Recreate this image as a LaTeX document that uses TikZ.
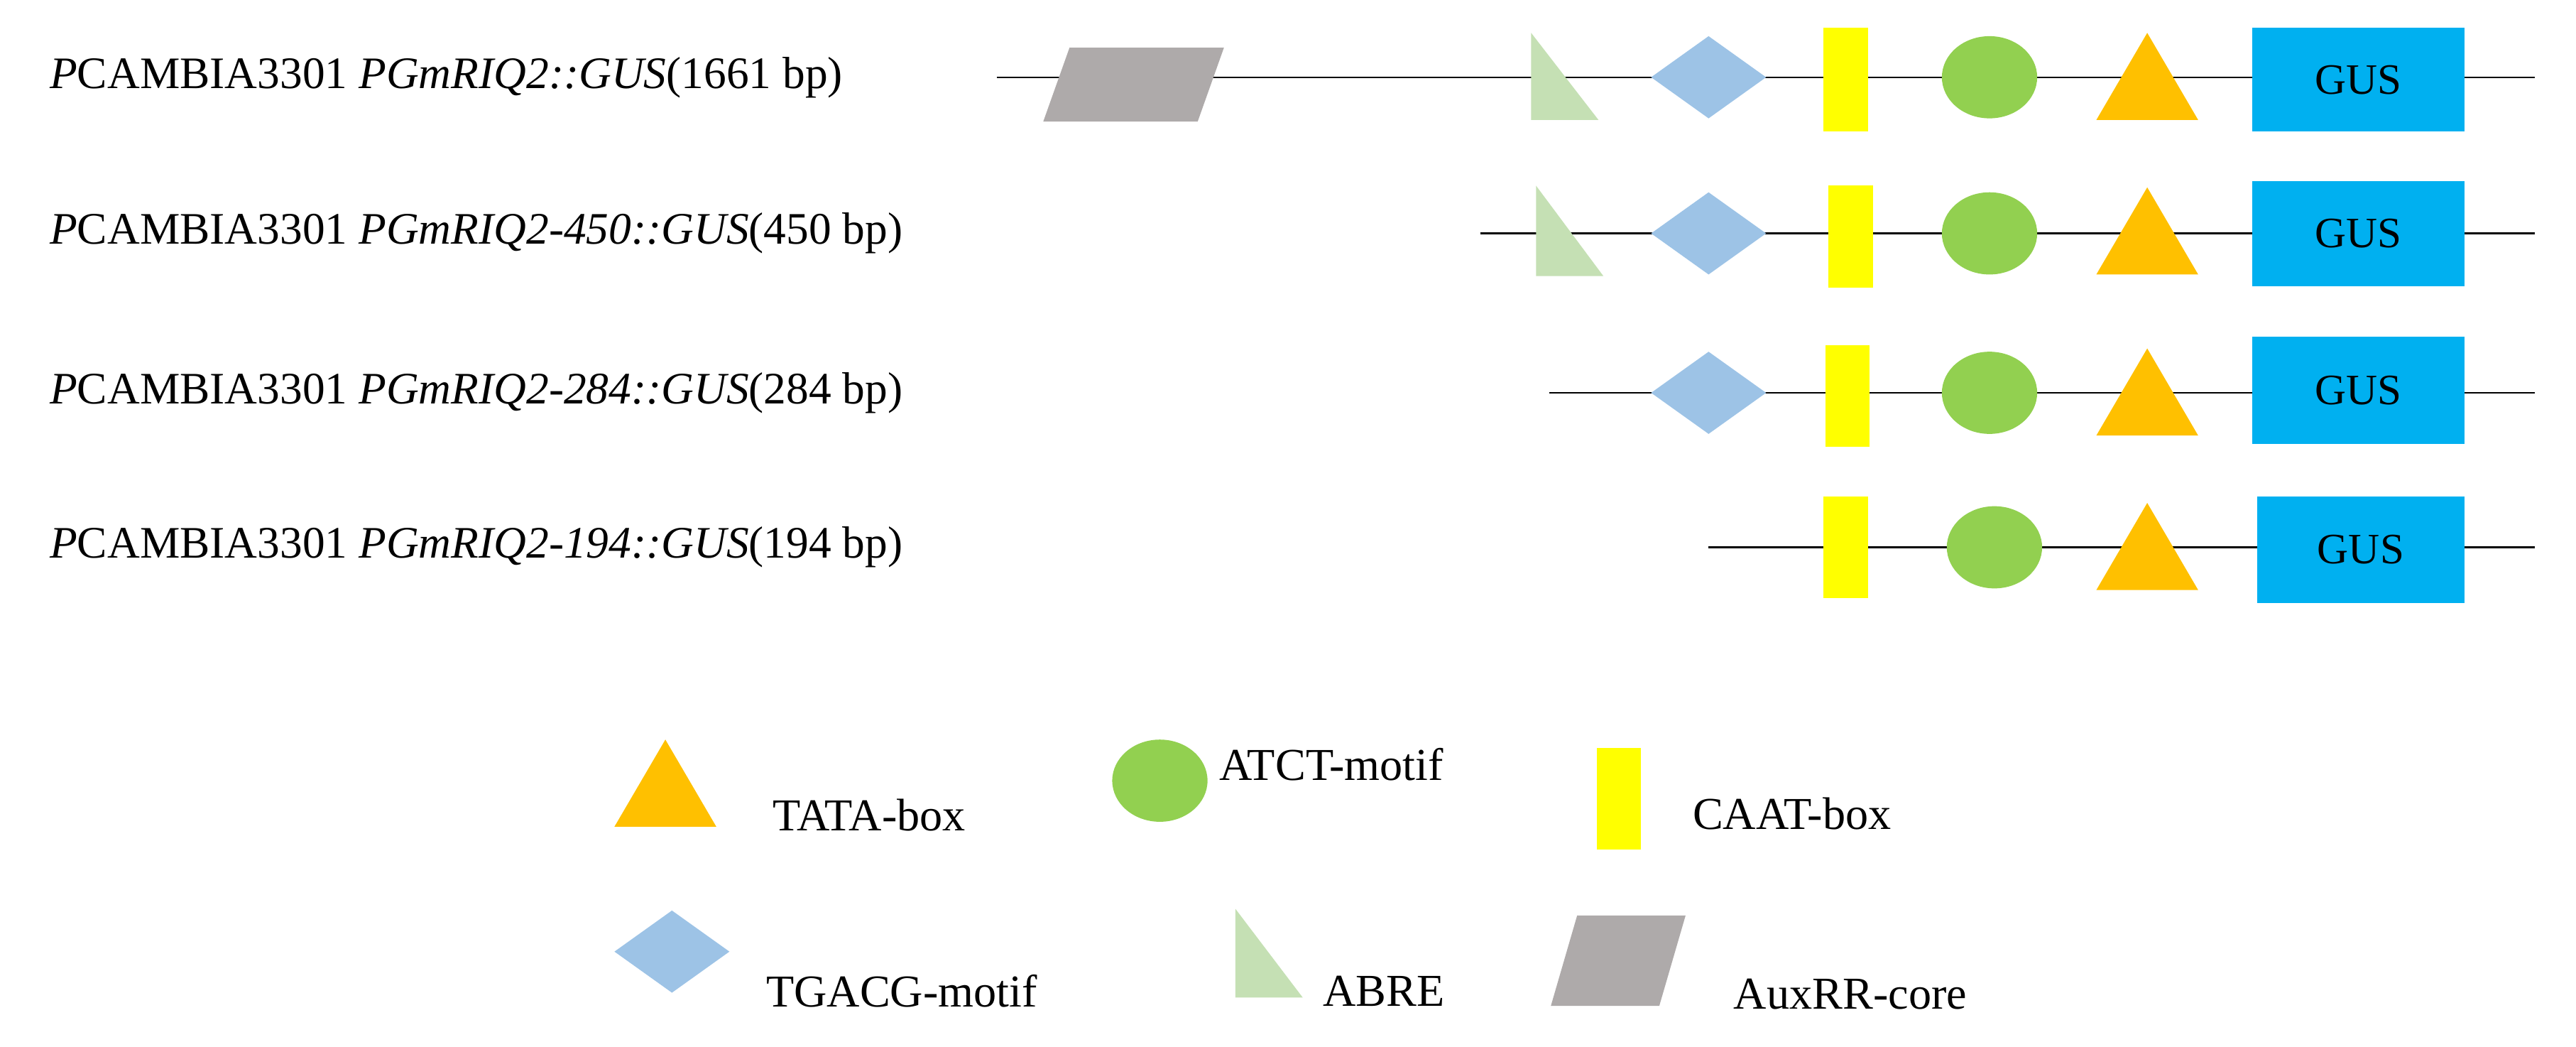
\documentclass[tikz,border=0pt]{standalone}
\usepackage{fontspec}
\setmainfont{Liberation Serif}
\definecolor{cgrey}{HTML}{AEAAAA}
\definecolor{cabre}{HTML}{C5E0B4}
\definecolor{cdia}{HTML}{9DC3E6}
\definecolor{cyel}{HTML}{FFFF00}
\definecolor{cgreen}{HTML}{92D050}
\definecolor{corange}{HTML}{FFC000}
\definecolor{cgus}{HTML}{00B0F0}
\begin{document}
\begin{tikzpicture}[x=0.02cm,y=-0.02cm,
  lab/.style={anchor=west,inner sep=0pt,font=\fontsize{15.6}{18}\selectfont},
  leg/.style={anchor=west,inner sep=0pt,font=\fontsize{15.8}{18}\selectfont},
  gus/.style={fill=cgus,draw=none,font=\fontsize{15}{17}\selectfont},
  dna/.style={line width=0.6pt}]
\useasboundingbox (0,0) rectangle (1568,637);
\newcommand{\tata}[2]{\fill[corange] (#1-31,#2+26) -- (#1,#2-27) -- (#1+31,#2+26) -- cycle;}
\newcommand{\atct}[2]{\fill[cgreen] (#1,#2) ellipse [x radius=29, y radius=25];}
\newcommand{\caat}[3]{\fill[cyel] (#1,#2) rectangle (#1+27,#3);}
\newcommand{\tgacg}[2]{\fill[cdia] (#1-35,#2) -- (#1,#2-25) -- (#1+35,#2) -- (#1,#2+25) -- cycle;}
\newcommand{\abre}[3]{\fill[cabre] (#1,#2) -- (#1,#3) -- (#1+41,#3) -- cycle;}
\newcommand{\auxrr}[4]{\fill[cgrey] (#1+16,#3) -- (#2,#3) -- (#2-16,#4) -- (#1,#4) -- cycle;}
% labels
\node[lab] (l1) at (30,47) {\textit{P}CAMBIA3301 \textit{PGmRIQ2::GUS}(1661 bp)};
\node[lab] (l2) at (30,142) {\textit{P}CAMBIA3301 \textit{PGmRIQ2-450::GUS}(450 bp)};
\node[lab] (l3) at (30,239) {\textit{P}CAMBIA3301 \textit{PGmRIQ2-284::GUS}(284 bp)};
\node[lab] (l4) at (30,333) {\textit{P}CAMBIA3301 \textit{PGmRIQ2-194::GUS}(194 bp)};
% row 1
\coordinate (s1) at (607,47); \coordinate (e1) at (1543,47);
\draw[dna] (s1) -- (e1);
\auxrr{635}{745}{29}{74}
\abre{932}{20}{73}
\tgacg{1040}{47}
\caat{1110}{17}{80}
\atct{1211}{47}
\tata{1307}{47}
\node[gus,minimum width=2.58cm,minimum height=1.26cm] (g1) at (1435.5,48.5) {GUS};
% row 2
\coordinate (s2) at (901,142); \coordinate (e2) at (1543,142);
\draw[dna] (s2) -- (e2);
\abre{935}{113}{168}
\tgacg{1040}{142}
\caat{1113}{113}{175}
\atct{1211}{142}
\tata{1307}{141}
\node[gus,minimum width=2.58cm,minimum height=1.28cm] (g2) at (1435.5,142) {GUS};
% row 3
\coordinate (s3) at (943,239); \coordinate (e3) at (1543,239);
\draw[dna] (s3) -- (e3);
\tgacg{1040}{239}
\caat{1111}{210}{272}
\atct{1211}{239}
\tata{1307}{239}
\node[gus,minimum width=2.58cm,minimum height=1.3cm] (g3) at (1435.5,237.5) {GUS};
% row 4
\coordinate (s4) at (1040,333); \coordinate (e4) at (1543,333);
\draw[dna] (s4) -- (e4);
\caat{1110}{302}{364}
\atct{1214}{333}
\tata{1307}{333}
\node[gus,minimum width=2.52cm,minimum height=1.3cm] (g4) at (1437,334.5) {GUS};
% legend
\tata{405}{477}
\node[leg] (t1) at (470,496) {TATA-box};
\atct{706}{475}
\node[leg] (t2) at (742,465) {ATCT-motif};
\caat{972}{455}{517}
\node[leg] (t3) at (1030,495) {CAAT-box};
\tgacg{409}{579}
\node[leg] (t4) at (466,603) {TGACG-motif};
\abre{752}{553}{607}
\node[leg] (t5) at (805,603) {ABRE};
\auxrr{944}{1026}{557}{612}
\node[leg] (t6) at (1055,605) {AuxRR-core};
\end{tikzpicture}
\end{document}
